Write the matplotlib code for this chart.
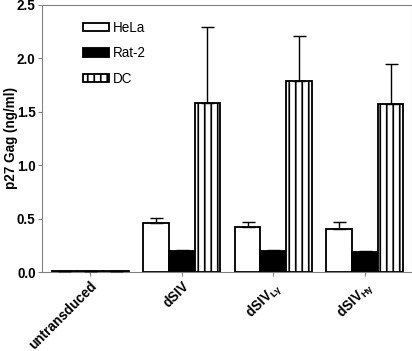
import matplotlib
matplotlib.use("Agg")
import matplotlib.pyplot as plt
import numpy as np

plt.rcParams['font.family'] = ['Liberation Sans', 'DejaVu Sans']
plt.rcParams['mathtext.fontset'] = 'custom'
plt.rcParams['mathtext.rm'] = 'Liberation Sans:bold'
plt.rcParams['mathtext.it'] = 'Liberation Sans:bold'
plt.rcParams['mathtext.bf'] = 'Liberation Sans:bold'
plt.rcParams['hatch.linewidth'] = 1.6

categories = ['untransduced', r'dSIV', r'dSIV$_{\mathrm{L\gamma}}$', r'dSIV$_{\mathrm{H\gamma}}$']
series_names = ['HeLa', 'Rat-2', 'DC']
hela = [0.005, 0.455, 0.42, 0.40]
hela_err = [0.0, 0.05, 0.05, 0.07]
rat2 = [0.005, 0.20, 0.20, 0.19]
rat2_err = [0.0, 0.01, 0.01, 0.005]
dc = [0.005, 1.58, 1.79, 1.57]
dc_err = [0.0, 0.71, 0.42, 0.38]
yticks = [0.0, 0.5, 1.0, 1.5, 2.0, 2.5]

DPI = 78
FS = 12.5
fig = plt.figure(figsize=(412 / DPI, 351 / DPI), dpi=DPI)
ax = fig.add_axes([0.102, 0.225, 0.897, 0.761])

x = np.arange(len(categories))
w = 0.28
vals = [hela, rat2, dc]
errs = [hela_err, rat2_err, dc_err]
faces = ['white', 'black', 'white']
hatches = [None, None, '||']
for i, (v, e) in enumerate(zip(vals, errs)):
    pos = x + (i - 1) * w
    ax.bar(pos, v, width=w, color=faces[i], edgecolor='black', linewidth=1.7,
           hatch=hatches[i], label=series_names[i], zorder=2)
    ax.errorbar(pos, v, yerr=[np.zeros(len(e)), e], fmt='none', ecolor='black',
                elinewidth=1.3, capsize=6, capthick=1.3, zorder=3)

ax.set_xlim(-0.525, 3.51)
ax.set_ylim(0, 2.5)
ax.set_yticks(yticks)
ax.set_yticklabels([f'{t:.1f}' for t in yticks], fontweight='bold', fontsize=FS)
ax.set_xticks(x)
ax.set_xticklabels(categories, rotation=45, ha='right', rotation_mode='anchor',
                   fontweight='bold', fontsize=FS)
ax.set_ylabel('p27 Gag (ng/ml)', fontweight='bold', fontsize=FS)
ax.yaxis.set_label_coords(-0.066, 0.5)

for s in ax.spines.values():
    s.set_color('#808080')
    s.set_linewidth(1.0)
ax.tick_params(axis='both', colors='#808080', length=4, width=1.0, labelcolor='black', pad=2)

leg = ax.legend(loc='upper left', bbox_to_anchor=(0.111, 0.94), frameon=False,
                handlelength=1.9, handleheight=0.6, labelspacing=0.85,
                handletextpad=0.3, borderpad=0, borderaxespad=0, fontsize=FS)

fig.savefig('out.png', dpi=DPI)
